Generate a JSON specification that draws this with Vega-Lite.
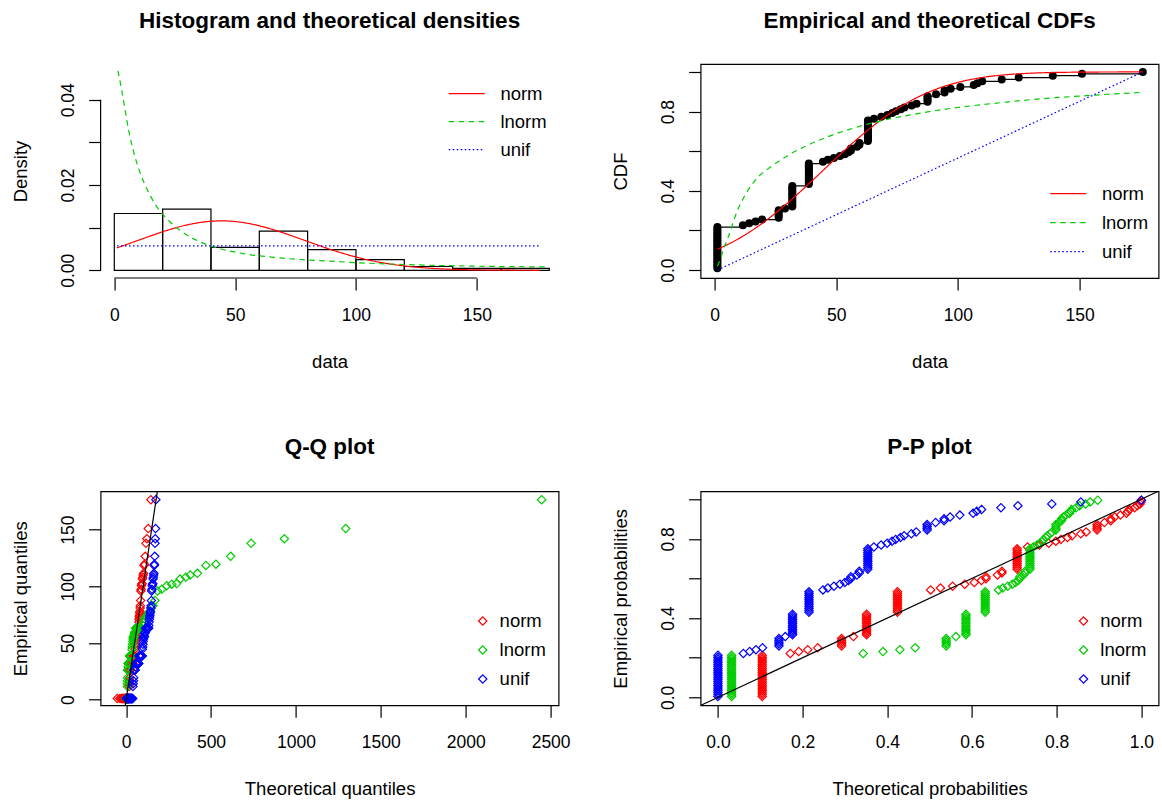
{
"$schema": "https://vega.github.io/schema/vega-lite/v6.json",
"background": "white",
"padding": {"left": 9.6, "top": 8, "right": 5, "bottom": 5},
"config": {
  "font": "Liberation Sans",
  "view": {"stroke": null},
  "axis": {"domain": false, "grid": false, "ticks": true, "tickSize": 12, "tickColor": "#000", "tickWidth": 1.2, "labelFont": "Liberation Sans", "labelFontSize": 17.5, "labelColor": "#000", "labelFlush": false, "labelOverlap": false, "titleFont": "Liberation Sans", "titleFontSize": 18.5, "titleFontWeight": "normal", "titleColor": "#000"},
  "axisX": {"labelAngle": 0, "labelAlign": "center", "labelBaseline": "alphabetic", "labelPadding": 30.5, "titleBaseline": "alphabetic", "titleAlign": "center", "titleX": 229, "titleY": 89},
  "axisY": {"labelAngle": -90, "labelAlign": "center", "labelBaseline": "alphabetic", "labelPadding": 15.2, "titleAngle": -90, "titleBaseline": "alphabetic", "titleAlign": "center", "titleX": -74.5, "titleY": 107},
  "title": {"font": "Liberation Sans", "fontSize": 22.5, "fontWeight": "bold", "color": "#000", "anchor": "middle", "baseline": "alphabetic", "offset": 32, "frame": "group"},
  "legend": {"labelFont": "Liberation Sans", "labelFontSize": 18.5, "labelColor": "#000", "symbolOpacity": 1}
},
"datasets": {
 "hist": [
  {"a":0,"b":20,"d":0.01333},{"a":20,"b":40,"d":0.01434},{"a":40,"b":60,"d":0.00538},{"a":60,"b":80,"d":0.0092},{"a":80,"b":100,"d":0.00484},{"a":100,"b":120,"d":0.0025},{"a":120,"b":140,"d":0.0009},{"a":140,"b":160,"d":0.00047},{"a":160,"b":180,"d":0.00047}
 ],
 "dens": [
  {"d":"norm","x":1.1,"y":0.00527},{"d":"norm","x":5,"y":0.00604},{"d":"norm","x":10,"y":0.00706},{"d":"norm","x":15,"y":0.00807},{"d":"norm","x":20,"y":0.00904},{"d":"norm","x":25,"y":0.00991},{"d":"norm","x":30,"y":0.01064},{"d":"norm","x":35,"y":0.01118},{"d":"norm","x":40,"y":0.01151},{"d":"norm","x":45,"y":0.0116},{"d":"norm","x":50,"y":0.01144},{"d":"norm","x":55,"y":0.01105},{"d":"norm","x":60,"y":0.01045},{"d":"norm","x":65,"y":0.00968},{"d":"norm","x":70,"y":0.00877},{"d":"norm","x":75,"y":0.00779},{"d":"norm","x":80,"y":0.00677},{"d":"norm","x":90,"y":0.0048},{"d":"norm","x":100,"y":0.00313},{"d":"norm","x":110,"y":0.00187},{"d":"norm","x":120,"y":0.00103},{"d":"norm","x":130,"y":0.00052},{"d":"norm","x":140,"y":0.00024},{"d":"norm","x":150,"y":0.0001},{"d":"norm","x":160,"y":0.00004},{"d":"norm","x":176,"y":0.00001},
  {"d":"lnorm","x":1.5,"y":0.0468},{"d":"lnorm","x":3,"y":0.0425},{"d":"lnorm","x":4.5,"y":0.0375},{"d":"lnorm","x":6,"y":0.0327},{"d":"lnorm","x":8,"y":0.0278},{"d":"lnorm","x":10,"y":0.024},{"d":"lnorm","x":12.5,"y":0.0203},{"d":"lnorm","x":15,"y":0.0174},{"d":"lnorm","x":17.5,"y":0.015},{"d":"lnorm","x":20,"y":0.0132},{"d":"lnorm","x":23,"y":0.0114},{"d":"lnorm","x":26.5,"y":0.0097},{"d":"lnorm","x":30,"y":0.0083},{"d":"lnorm","x":35,"y":0.0068},{"d":"lnorm","x":40,"y":0.0057},{"d":"lnorm","x":48,"y":0.0045},{"d":"lnorm","x":56,"y":0.0037},{"d":"lnorm","x":65,"y":0.0031},{"d":"lnorm","x":75,"y":0.0026},{"d":"lnorm","x":88,"y":0.0022},{"d":"lnorm","x":100,"y":0.0018},{"d":"lnorm","x":118,"y":0.0014},{"d":"lnorm","x":137,"y":0.0011},{"d":"lnorm","x":158,"y":0.0009},{"d":"lnorm","x":180,"y":0.0008},
  {"d":"unif","x":1.1,"y":0.005718},{"d":"unif","x":176,"y":0.005718}
 ],
 "cdf": [
  {"d":"norm","x":1.1,"y":0.1046},{"d":"norm","x":10,"y":0.1594},{"d":"norm","x":20,"y":0.24},{"d":"norm","x":30,"y":0.3388},{"d":"norm","x":40,"y":0.4503},{"d":"norm","x":50,"y":0.5658},{"d":"norm","x":60,"y":0.676},{"d":"norm","x":70,"y":0.7725},{"d":"norm","x":80,"y":0.8503},{"d":"norm","x":90,"y":0.908},{"d":"norm","x":100,"y":0.9473},{"d":"norm","x":110,"y":0.9719},{"d":"norm","x":120,"y":0.9861},{"d":"norm","x":130,"y":0.9936},{"d":"norm","x":140,"y":0.9973},{"d":"norm","x":150,"y":0.9989},{"d":"norm","x":160,"y":0.9996},{"d":"norm","x":176,"y":0.9999},
  {"d":"lnorm","x":1.1,"y":0.02},{"d":"lnorm","x":2.2,"y":0.05},{"d":"lnorm","x":3.5,"y":0.1},{"d":"lnorm","x":5.6,"y":0.168},{"d":"lnorm","x":9.1,"y":0.293},{"d":"lnorm","x":13.2,"y":0.393},{"d":"lnorm","x":17.3,"y":0.462},{"d":"lnorm","x":24.1,"y":0.53},{"d":"lnorm","x":31,"y":0.585},{"d":"lnorm","x":37.9,"y":0.628},{"d":"lnorm","x":46.1,"y":0.671},{"d":"lnorm","x":57,"y":0.716},{"d":"lnorm","x":68,"y":0.752},{"d":"lnorm","x":80,"y":0.782},{"d":"lnorm","x":90,"y":0.803},{"d":"lnorm","x":100,"y":0.8205},{"d":"lnorm","x":110,"y":0.835},{"d":"lnorm","x":120,"y":0.848},{"d":"lnorm","x":130,"y":0.86},{"d":"lnorm","x":140,"y":0.87},{"d":"lnorm","x":150,"y":0.878},{"d":"lnorm","x":160,"y":0.886},{"d":"lnorm","x":176,"y":0.897},
  {"d":"unif","x":1.1,"y":0},{"d":"unif","x":176,"y":1}
 ],
 "obs": [
  {"v":1.1,"F":0.0094,"p":0.0047,"n":0.1046,"l":0.0322,"u":0},
  {"v":1.1,"F":0.0189,"p":0.0142,"n":0.1046,"l":0.0322,"u":0},
  {"v":1.1,"F":0.0283,"p":0.0236,"n":0.1046,"l":0.0322,"u":0},
  {"v":1.1,"F":0.0377,"p":0.033,"n":0.1046,"l":0.0322,"u":0},
  {"v":1.1,"F":0.0472,"p":0.0425,"n":0.1046,"l":0.0322,"u":0},
  {"v":1.1,"F":0.0566,"p":0.0519,"n":0.1046,"l":0.0322,"u":0},
  {"v":1.1,"F":0.066,"p":0.0613,"n":0.1046,"l":0.0322,"u":0},
  {"v":1.1,"F":0.0755,"p":0.0708,"n":0.1046,"l":0.0322,"u":0},
  {"v":1.1,"F":0.0849,"p":0.0802,"n":0.1046,"l":0.0322,"u":0},
  {"v":1.1,"F":0.0943,"p":0.0896,"n":0.1046,"l":0.0322,"u":0},
  {"v":1.1,"F":0.1038,"p":0.0991,"n":0.1046,"l":0.0322,"u":0},
  {"v":1.1,"F":0.1132,"p":0.1085,"n":0.1046,"l":0.0322,"u":0},
  {"v":1.1,"F":0.1226,"p":0.1179,"n":0.1046,"l":0.0322,"u":0},
  {"v":1.1,"F":0.1321,"p":0.1274,"n":0.1046,"l":0.0322,"u":0},
  {"v":1.1,"F":0.1415,"p":0.1368,"n":0.1046,"l":0.0322,"u":0},
  {"v":1.1,"F":0.1509,"p":0.1462,"n":0.1046,"l":0.0322,"u":0},
  {"v":1.1,"F":0.1604,"p":0.1557,"n":0.1046,"l":0.0322,"u":0},
  {"v":1.1,"F":0.1698,"p":0.1651,"n":0.1046,"l":0.0322,"u":0},
  {"v":1.1,"F":0.1792,"p":0.1745,"n":0.1046,"l":0.0322,"u":0},
  {"v":1.1,"F":0.1887,"p":0.184,"n":0.1046,"l":0.0322,"u":0},
  {"v":1.1,"F":0.1981,"p":0.1934,"n":0.1046,"l":0.0322,"u":0},
  {"v":1.1,"F":0.2075,"p":0.2028,"n":0.1046,"l":0.0322,"u":0},
  {"v":1.1,"F":0.217,"p":0.2123,"n":0.1046,"l":0.0322,"u":0},
  {"v":11.6,"F":0.2264,"p":0.2217,"n":0.1709,"l":0.343,"u":0.06},
  {"v":14.2,"F":0.2358,"p":0.2311,"n":0.1908,"l":0.3896,"u":0.0749},
  {"v":16.8,"F":0.2453,"p":0.2406,"n":0.212,"l":0.4296,"u":0.0898},
  {"v":19.5,"F":0.2547,"p":0.25,"n":0.2355,"l":0.4658,"u":0.1052},
  {"v":26.3,"F":0.2642,"p":0.2594,"n":0.292,"l":0.5391,"u":0.1441},
  {"v":26.3,"F":0.2736,"p":0.2689,"n":0.292,"l":0.5391,"u":0.1441},
  {"v":26.3,"F":0.283,"p":0.2783,"n":0.292,"l":0.5391,"u":0.1441},
  {"v":26.3,"F":0.2925,"p":0.2877,"n":0.292,"l":0.5391,"u":0.1441},
  {"v":26.3,"F":0.3019,"p":0.2972,"n":0.292,"l":0.5391,"u":0.1441},
  {"v":28.9,"F":0.3113,"p":0.3066,"n":0.32,"l":0.5619,"u":0.1589},
  {"v":31.9,"F":0.3208,"p":0.316,"n":0.351,"l":0.5857,"u":0.1761},
  {"v":31.9,"F":0.3302,"p":0.3255,"n":0.351,"l":0.5857,"u":0.1761},
  {"v":31.9,"F":0.3396,"p":0.3349,"n":0.351,"l":0.5857,"u":0.1761},
  {"v":31.9,"F":0.3491,"p":0.3443,"n":0.351,"l":0.5857,"u":0.1761},
  {"v":31.9,"F":0.3585,"p":0.3538,"n":0.351,"l":0.5857,"u":0.1761},
  {"v":31.9,"F":0.3679,"p":0.3632,"n":0.351,"l":0.5857,"u":0.1761},
  {"v":31.9,"F":0.3774,"p":0.3726,"n":0.351,"l":0.5857,"u":0.1761},
  {"v":31.9,"F":0.3868,"p":0.3821,"n":0.351,"l":0.5857,"u":0.1761},
  {"v":31.9,"F":0.3962,"p":0.3915,"n":0.351,"l":0.5857,"u":0.1761},
  {"v":31.9,"F":0.4057,"p":0.4009,"n":0.351,"l":0.5857,"u":0.1761},
  {"v":31.9,"F":0.4151,"p":0.4104,"n":0.351,"l":0.5857,"u":0.1761},
  {"v":31.9,"F":0.4245,"p":0.4198,"n":0.351,"l":0.5857,"u":0.1761},
  {"v":38.7,"F":0.434,"p":0.4292,"n":0.424,"l":0.6312,"u":0.215},
  {"v":38.7,"F":0.4434,"p":0.4387,"n":0.424,"l":0.6312,"u":0.215},
  {"v":38.7,"F":0.4528,"p":0.4481,"n":0.424,"l":0.6312,"u":0.215},
  {"v":38.7,"F":0.4623,"p":0.4575,"n":0.424,"l":0.6312,"u":0.215},
  {"v":38.7,"F":0.4717,"p":0.467,"n":0.424,"l":0.6312,"u":0.215},
  {"v":38.7,"F":0.4811,"p":0.4764,"n":0.424,"l":0.6312,"u":0.215},
  {"v":38.7,"F":0.4906,"p":0.4858,"n":0.424,"l":0.6312,"u":0.215},
  {"v":38.7,"F":0.5,"p":0.4953,"n":0.424,"l":0.6312,"u":0.215},
  {"v":38.7,"F":0.5094,"p":0.5047,"n":0.424,"l":0.6312,"u":0.215},
  {"v":38.7,"F":0.5189,"p":0.5142,"n":0.424,"l":0.6312,"u":0.215},
  {"v":38.7,"F":0.5283,"p":0.5236,"n":0.424,"l":0.6312,"u":0.215},
  {"v":38.7,"F":0.5377,"p":0.533,"n":0.424,"l":0.6312,"u":0.215},
  {"v":44.5,"F":0.5472,"p":0.5425,"n":0.5023,"l":0.6628,"u":0.2481},
  {"v":46.5,"F":0.5566,"p":0.5519,"n":0.5255,"l":0.6726,"u":0.2596},
  {"v":49,"F":0.566,"p":0.5613,"n":0.5543,"l":0.6843,"u":0.2739},
  {"v":51.5,"F":0.5755,"p":0.5708,"n":0.5829,"l":0.6951,"u":0.2882},
  {"v":53.5,"F":0.5849,"p":0.5802,"n":0.6054,"l":0.7032,"u":0.2996},
  {"v":55,"F":0.5943,"p":0.5896,"n":0.6221,"l":0.7089,"u":0.3082},
  {"v":56,"F":0.6038,"p":0.5991,"n":0.6331,"l":0.7127,"u":0.3139},
  {"v":56,"F":0.6132,"p":0.6085,"n":0.6331,"l":0.7127,"u":0.3139},
  {"v":58.5,"F":0.6226,"p":0.6179,"n":0.6601,"l":0.7218,"u":0.3282},
  {"v":59.5,"F":0.6321,"p":0.6274,"n":0.6707,"l":0.7253,"u":0.3339},
  {"v":59.5,"F":0.6415,"p":0.6368,"n":0.6707,"l":0.7253,"u":0.3339},
  {"v":63,"F":0.6509,"p":0.6462,"n":0.7066,"l":0.7369,"u":0.3539},
  {"v":63,"F":0.6604,"p":0.6557,"n":0.7066,"l":0.7369,"u":0.3539},
  {"v":63,"F":0.6698,"p":0.6651,"n":0.7066,"l":0.7369,"u":0.3539},
  {"v":63,"F":0.6792,"p":0.6745,"n":0.7066,"l":0.7369,"u":0.3539},
  {"v":63,"F":0.6887,"p":0.684,"n":0.7066,"l":0.7369,"u":0.3539},
  {"v":63,"F":0.6981,"p":0.6934,"n":0.7066,"l":0.7369,"u":0.3539},
  {"v":63,"F":0.7075,"p":0.7028,"n":0.7066,"l":0.7369,"u":0.3539},
  {"v":63,"F":0.717,"p":0.7123,"n":0.7066,"l":0.7369,"u":0.3539},
  {"v":63,"F":0.7264,"p":0.7217,"n":0.7066,"l":0.7369,"u":0.3539},
  {"v":63,"F":0.7358,"p":0.7311,"n":0.7066,"l":0.7369,"u":0.3539},
  {"v":63,"F":0.7453,"p":0.7406,"n":0.7066,"l":0.7369,"u":0.3539},
  {"v":63,"F":0.7547,"p":0.75,"n":0.7066,"l":0.7369,"u":0.3539},
  {"v":65.5,"F":0.7642,"p":0.7594,"n":0.7312,"l":0.7446,"u":0.3682},
  {"v":68.5,"F":0.7736,"p":0.7689,"n":0.7591,"l":0.7534,"u":0.3854},
  {"v":71,"F":0.783,"p":0.7783,"n":0.7812,"l":0.7603,"u":0.3997},
  {"v":73,"F":0.7925,"p":0.7877,"n":0.798,"l":0.7654,"u":0.4111},
  {"v":74.5,"F":0.8019,"p":0.7972,"n":0.81,"l":0.7694,"u":0.4197},
  {"v":76.5,"F":0.8113,"p":0.8066,"n":0.8254,"l":0.7742,"u":0.4311},
  {"v":78,"F":0.8208,"p":0.816,"n":0.8364,"l":0.7779,"u":0.4397},
  {"v":81,"F":0.8302,"p":0.8255,"n":0.857,"l":0.7846,"u":0.4568},
  {"v":83,"F":0.8396,"p":0.8349,"n":0.8697,"l":0.789,"u":0.4683},
  {"v":87.5,"F":0.8491,"p":0.8443,"n":0.8954,"l":0.7983,"u":0.494},
  {"v":87.5,"F":0.8585,"p":0.8538,"n":0.8954,"l":0.7983,"u":0.494},
  {"v":87.5,"F":0.8679,"p":0.8632,"n":0.8954,"l":0.7983,"u":0.494},
  {"v":87.5,"F":0.8774,"p":0.8726,"n":0.8954,"l":0.7983,"u":0.494},
  {"v":91,"F":0.8868,"p":0.8821,"n":0.9127,"l":0.805,"u":0.514},
  {"v":94.5,"F":0.8962,"p":0.8915,"n":0.9278,"l":0.8113,"u":0.534},
  {"v":94.5,"F":0.9057,"p":0.9009,"n":0.9278,"l":0.8113,"u":0.534},
  {"v":97,"F":0.9151,"p":0.9104,"n":0.9372,"l":0.8156,"u":0.5483},
  {"v":101,"F":0.9245,"p":0.9198,"n":0.9504,"l":0.8221,"u":0.5712},
  {"v":106.5,"F":0.934,"p":0.9292,"n":0.9647,"l":0.8304,"u":0.6026},
  {"v":108,"F":0.9434,"p":0.9387,"n":0.968,"l":0.8326,"u":0.6112},
  {"v":110,"F":0.9528,"p":0.9481,"n":0.9719,"l":0.8353,"u":0.6226},
  {"v":118,"F":0.9623,"p":0.9575,"n":0.9839,"l":0.8459,"u":0.6684},
  {"v":125,"F":0.9717,"p":0.967,"n":0.9905,"l":0.8541,"u":0.7084},
  {"v":139,"F":0.9811,"p":0.9764,"n":0.997,"l":0.8684,"u":0.7885},
  {"v":151,"F":0.9906,"p":0.9858,"n":0.999,"l":0.879,"u":0.8571},
  {"v":176,"F":1,"p":0.9953,"n":0.9999,"l":0.8969,"u":1}
 ],
 "qq": [
  {"e":1.1,"n":-51.7,"l":0.3,"u":1.9},{"e":1.1,"n":-36.3,"l":0.6,"u":3.6},{"e":1.1,"n":-28.4,"l":0.87,"u":5.2},{"e":1.1,"n":-22.8,"l":1.12,"u":6.9},{"e":1.1,"n":-18.4,"l":1.38,"u":8.5},{"e":1.1,"n":-14.8,"l":1.63,"u":10.2},{"e":1.1,"n":-11.7,"l":1.88,"u":11.8},{"e":1.1,"n":-8.9,"l":2.14,"u":13.5},{"e":1.1,"n":-6.4,"l":2.41,"u":15.1},{"e":1.1,"n":-4,"l":2.68,"u":16.8},{"e":1.1,"n":-1.9,"l":2.96,"u":18.4},{"e":1.1,"n":0.1,"l":3.24,"u":20.1},{"e":1.1,"n":1.9,"l":3.54,"u":21.7},{"e":1.1,"n":3.7,"l":3.83,"u":23.4},{"e":1.1,"n":5.4,"l":4.15,"u":25},{"e":1.1,"n":7,"l":4.47,"u":26.7},{"e":1.1,"n":8.5,"l":4.79,"u":28.3},{"e":1.1,"n":10,"l":5.13,"u":30},{"e":1.1,"n":11.4,"l":5.49,"u":31.6},{"e":1.1,"n":12.8,"l":5.85,"u":33.3},{"e":1.1,"n":14.1,"l":6.22,"u":34.9},{"e":1.1,"n":15.4,"l":6.6,"u":36.6},{"e":1.1,"n":16.7,"l":7,"u":38.2},
  {"e":11.6,"n":17.9,"l":7.4,"u":39.9},{"e":14.2,"n":19.1,"l":7.81,"u":41.5},{"e":16.8,"n":20.2,"l":8.26,"u":43.2},{"e":19.5,"n":21.4,"l":8.71,"u":44.8},
  {"e":26.3,"n":22.5,"l":9.16,"u":46.5},{"e":26.3,"n":23.6,"l":9.64,"u":48.1},{"e":26.3,"n":24.7,"l":10.1,"u":49.8},{"e":26.3,"n":25.7,"l":10.6,"u":51.4},{"e":26.3,"n":26.7,"l":11.2,"u":53.1},
  {"e":28.9,"n":27.8,"l":11.7,"u":54.7},
  {"e":31.9,"n":28.8,"l":12.3,"u":56.4},{"e":31.9,"n":29.8,"l":12.9,"u":58},{"e":31.9,"n":30.8,"l":13.5,"u":59.7},{"e":31.9,"n":31.8,"l":14.1,"u":61.3},{"e":31.9,"n":32.8,"l":14.7,"u":63},{"e":31.9,"n":33.7,"l":15.4,"u":64.6},{"e":31.9,"n":34.7,"l":16.1,"u":66.3},{"e":31.9,"n":35.6,"l":16.8,"u":67.9},{"e":31.9,"n":36.6,"l":17.6,"u":69.6},{"e":31.9,"n":37.5,"l":18.3,"u":71.2},{"e":31.9,"n":38.4,"l":19.1,"u":72.9},{"e":31.9,"n":39.3,"l":20,"u":74.5},
  {"e":38.7,"n":40.2,"l":20.8,"u":76.2},{"e":38.7,"n":41.1,"l":21.7,"u":77.8},{"e":38.7,"n":42.1,"l":22.7,"u":79.5},{"e":38.7,"n":43,"l":23.6,"u":81.1},{"e":38.7,"n":43.8,"l":24.6,"u":82.8},{"e":38.7,"n":44.8,"l":25.7,"u":84.4},{"e":38.7,"n":45.7,"l":26.8,"u":86.1},{"e":38.7,"n":46.5,"l":27.9,"u":87.7},{"e":38.7,"n":47.5,"l":29.1,"u":89.4},{"e":38.7,"n":48.3,"l":30.3,"u":91},{"e":38.7,"n":49.2,"l":31.6,"u":92.7},{"e":38.7,"n":50.2,"l":33,"u":94.3},
  {"e":44.5,"n":51,"l":34.4,"u":96},{"e":46.5,"n":51.9,"l":35.8,"u":97.6},{"e":49,"n":52.9,"l":37.4,"u":99.3},{"e":51.5,"n":53.8,"l":39,"u":100.9},{"e":53.5,"n":54.7,"l":40.7,"u":102.6},{"e":55,"n":55.6,"l":42.5,"u":104.2},{"e":56,"n":56.5,"l":44.3,"u":105.9},{"e":56,"n":57.5,"l":46.2,"u":107.5},{"e":58.5,"n":58.4,"l":48.3,"u":109.2},{"e":59.5,"n":59.4,"l":50.5,"u":110.8},{"e":59.5,"n":60.3,"l":52.8,"u":112.5},
  {"e":63,"n":61.3,"l":55.1,"u":114.1},{"e":63,"n":62.2,"l":57.7,"u":115.8},{"e":63,"n":63.2,"l":60.3,"u":117.4},{"e":63,"n":64.2,"l":63.2,"u":119.1},{"e":63,"n":65.2,"l":66.2,"u":120.7},{"e":63,"n":66.2,"l":69.4,"u":122.4},{"e":63,"n":67.3,"l":72.8,"u":124},{"e":63,"n":68.3,"l":76.4,"u":125.7},{"e":63,"n":69.3,"l":80.2,"u":127.3},{"e":63,"n":70.4,"l":84.3,"u":129},{"e":63,"n":71.5,"l":88.7,"u":130.6},{"e":63,"n":72.6,"l":93.3,"u":132.3},
  {"e":65.5,"n":73.8,"l":98.4,"u":133.9},{"e":68.5,"n":74.9,"l":104,"u":135.6},{"e":71,"n":76.1,"l":110,"u":137.2},{"e":73,"n":77.3,"l":116,"u":138.9},{"e":74.5,"n":78.6,"l":123,"u":140.5},{"e":76.5,"n":79.9,"l":131,"u":142.2},{"e":78,"n":81.2,"l":139,"u":143.8},
  {"e":81,"n":82.6,"l":148,"u":145.5},{"e":83,"n":84,"l":158,"u":147.1},{"e":87.5,"n":85.5,"l":170,"u":148.8},
  {"e":96,"n":87,"l":185,"u":150.4},{"e":97.5,"n":88.6,"l":210,"u":152.1},{"e":100.5,"n":90.3,"l":239,"u":153.7},{"e":102,"n":92.1,"l":269,"u":155.4},{"e":102.5,"n":93.9,"l":298,"u":157},{"e":106.5,"n":95.9,"l":318,"u":158.7},{"e":108,"n":98,"l":351,"u":160.3},{"e":110,"n":100.4,"l":377,"u":162},{"e":111.5,"n":102.9,"l":420,"u":163.6},{"e":118.5,"n":105.7,"l":470,"u":165.3},{"e":119.5,"n":108.8,"l":529,"u":166.9},{"e":126.5,"n":112.4,"l":616,"u":168.6},{"e":138,"n":116.8,"l":736,"u":170.2},{"e":142,"n":122.4,"l":932,"u":171.9},{"e":151,"n":130.3,"l":1293,"u":173.5},{"e":176.5,"n":145.7,"l":2447,"u":175.2}
 ]
},
"columns": 2,
"spacing": {"row": 213.3, "column": 142},
"bounds": "flush",
"resolve": {"scale": {"color": "independent", "strokeDash": "independent"}, "legend": {"color": "independent", "strokeDash": "independent"}},
"concat": [
 {
  "width": 458, "height": 214,
  "view": {"stroke": null},
  "title": "Histogram and theoretical densities",
  "layer": [
   {"data": {"name": "hist"},
    "mark": {"type": "rect", "fill": "transparent", "stroke": "#000", "strokeWidth": 1.2},
    "encoding": {
     "x": {"field": "a", "type": "quantitative", "scale": {"domain": [-5.67, 183.85], "nice": false, "zero": false}, "axis": {"values": [0, 50, 100, 150], "title": "data"}},
     "x2": {"field": "b"},
     "y": {"field": "d", "type": "quantitative", "scale": {"domain": [-0.0018, 0.0484], "nice": false, "zero": false}, "axis": {"values": [0, 0.01, 0.02, 0.03, 0.04], "title": "Density", "labelExpr": "datum.value == 0.01 || datum.value == 0.03 ? '' : format(datum.value, '.2f')"}},
     "y2": {"datum": 0}
    }},
   {"data": {"name": "dens"},
    "mark": {"type": "line", "strokeWidth": 1.2, "interpolate": "monotone"},
    "encoding": {
     "x": {"field": "x", "type": "quantitative", "title": "data"},
     "y": {"field": "y", "type": "quantitative", "title": "Density"},
     "color": {"field": "d", "type": "nominal", "scale": {"domain": ["norm", "lnorm", "unif"], "range": ["#FF0000", "#00CD00", "#0000FF"]},
       "legend": {"title": null, "orient": "none", "legendX": 347.1, "legendY": 15.6, "symbolType": "stroke", "symbolSize": 1296, "symbolStrokeWidth": 1.2, "labelOffset": 14.7, "padding": 0, "rowPadding": 0, "clipHeight": 28}},
     "strokeDash": {"field": "d", "type": "nominal", "scale": {"domain": ["norm", "lnorm", "unif"], "range": [[1, 0], [5.5, 4.5], [1.6, 2.4]]},
       "legend": {"title": null, "orient": "none", "legendX": 347.1, "legendY": 15.6, "symbolType": "stroke", "symbolSize": 1296, "symbolStrokeWidth": 1.2, "labelOffset": 14.7, "padding": 0, "rowPadding": 0, "clipHeight": 28}}
    }},
   {"data": {"values": [{}]}, "mark": {"type": "rule", "color": "#000", "strokeWidth": 1.2},
    "encoding": {"x": {"datum": 0}, "x2": {"datum": 150}, "y": {"datum": -0.0018}}},
   {"data": {"values": [{}]}, "mark": {"type": "rule", "color": "#000", "strokeWidth": 1.2},
    "encoding": {"x": {"datum": -5.67}, "y": {"datum": 0}, "y2": {"datum": 0.04}}}
  ]
 },
 {
  "width": 458, "height": 214,
  "view": {"stroke": "#000", "strokeWidth": 1.2},
  "title": "Empirical and theoretical CDFs",
  "layer": [
   {"data": {"name": "obs"},
    "mark": {"type": "line", "color": "#000", "strokeWidth": 1.2, "interpolate": "step-after"},
    "encoding": {
     "x": {"field": "v", "type": "quantitative", "scale": {"domain": [-5.8, 182.5], "nice": false, "zero": false}, "axis": {"values": [0, 50, 100, 150], "title": "data"}},
     "y": {"field": "F", "type": "quantitative", "scale": {"domain": [-0.04, 1.04], "nice": false, "zero": false}, "axis": {"values": [0, 0.2, 0.4, 0.6, 0.8, 1], "title": "CDF", "labelExpr": "datum.value == 0.2 || datum.value == 0.6 || datum.value == 1 ? '' : format(datum.value, '.1f')"}},
     "order": {"field": "F", "type": "quantitative"}
    }},
   {"data": {"name": "obs"},
    "mark": {"type": "circle", "color": "#000", "size": 64, "opacity": 1},
    "encoding": {"x": {"field": "v", "type": "quantitative", "title": "data"}, "y": {"field": "F", "type": "quantitative", "title": "CDF"}}},
   {"data": {"name": "cdf"},
    "mark": {"type": "line", "strokeWidth": 1.2, "interpolate": "monotone"},
    "encoding": {
     "x": {"field": "x", "type": "quantitative", "title": "data"},
     "y": {"field": "y", "type": "quantitative", "title": "CDF"},
     "color": {"field": "d", "type": "nominal", "scale": {"domain": ["norm", "lnorm", "unif"], "range": ["#FF0000", "#00CD00", "#0000FF"]},
       "legend": {"title": null, "orient": "none", "legendX": 348.6, "legendY": 115.35, "symbolType": "stroke", "symbolSize": 1296, "symbolStrokeWidth": 1.2, "labelOffset": 14.7, "padding": 0, "rowPadding": 0, "clipHeight": 28.5}},
     "strokeDash": {"field": "d", "type": "nominal", "scale": {"domain": ["norm", "lnorm", "unif"], "range": [[1, 0], [5.5, 4.5], [1.6, 2.4]]},
       "legend": {"title": null, "orient": "none", "legendX": 348.6, "legendY": 115.35, "symbolType": "stroke", "symbolSize": 1296, "symbolStrokeWidth": 1.2, "labelOffset": 14.7, "padding": 0, "rowPadding": 0, "clipHeight": 28.5}}
    }}
  ]
 },
 {
  "width": 458, "height": 214,
  "view": {"stroke": "#000", "strokeWidth": 1.2},
  "title": "Q-Q plot",
  "layer": [
   {"data": {"name": "qq"},
    "mark": {"type": "point", "shape": "diamond", "filled": false, "size": 69, "strokeWidth": 1.2, "opacity": 1},
    "encoding": {
     "x": {"field": "n", "type": "quantitative", "scale": {"domain": [-150.2, 2547], "nice": false, "zero": false}, "axis": {"values": [0, 500, 1000, 1500, 2000, 2500], "title": "Theoretical quantiles", "labelExpr": "format(datum.value, 'd')"}},
     "y": {"field": "e", "type": "quantitative", "scale": {"domain": [-4.9, 183.9], "nice": false, "zero": false}, "axis": {"values": [0, 50, 100, 150], "title": "Empirical quantiles"}},
     "color": {"datum": "norm", "type": "nominal", "scale": {"domain": ["norm", "lnorm", "unif"], "range": ["#FF0000", "#00CD00", "#0000FF"]},
       "legend": {"title": null, "orient": "none", "legendX": 372.9, "legendY": 115.55, "symbolType": "diamond", "symbolSize": 69, "symbolStrokeWidth": 1.2, "labelOffset": 7.6, "padding": 0, "rowPadding": 0, "clipHeight": 28.3}}
    }},
   {"data": {"name": "qq"},
    "mark": {"type": "point", "shape": "diamond", "filled": false, "size": 69, "strokeWidth": 1.2, "opacity": 1},
    "encoding": {
     "x": {"field": "l", "type": "quantitative", "title": "Theoretical quantiles"},
     "y": {"field": "e", "type": "quantitative", "title": "Empirical quantiles"},
     "color": {"datum": "lnorm", "type": "nominal"}
    }},
   {"data": {"name": "qq"},
    "mark": {"type": "point", "shape": "diamond", "filled": false, "size": 69, "strokeWidth": 1.2, "opacity": 1},
    "encoding": {
     "x": {"field": "u", "type": "quantitative", "title": "Theoretical quantiles"},
     "y": {"field": "e", "type": "quantitative", "title": "Empirical quantiles"},
     "color": {"datum": "unif", "type": "nominal"}
    }},
   {"data": {"values": [{}]}, "mark": {"type": "rule", "color": "#000", "strokeWidth": 1.2},
    "encoding": {"x": {"datum": -4.9}, "y": {"datum": -4.9}, "x2": {"datum": 183.9}, "y2": {"datum": 183.9}}}
  ]
 },
 {
  "width": 458, "height": 214,
  "view": {"stroke": "#000", "strokeWidth": 1.2},
  "title": "P-P plot",
  "layer": [
   {"data": {"name": "obs"},
    "mark": {"type": "point", "shape": "diamond", "filled": false, "size": 69, "strokeWidth": 1.2, "opacity": 1},
    "encoding": {
     "x": {"field": "n", "type": "quantitative", "scale": {"domain": [-0.041, 1.0407], "nice": false, "zero": false}, "axis": {"values": [0, 0.2, 0.4, 0.6, 0.8, 1], "title": "Theoretical probabilities", "labelExpr": "format(datum.value, '.1f')"}},
     "y": {"field": "p", "type": "quantitative", "scale": {"domain": [-0.04, 1.04], "nice": false, "zero": false}, "axis": {"values": [0, 0.2, 0.4, 0.6, 0.8, 1], "title": "Empirical probabilities", "labelExpr": "datum.value == 0.2 || datum.value == 0.6 || datum.value == 1 ? '' : format(datum.value, '.1f')"}},
     "color": {"datum": "norm", "type": "nominal", "scale": {"domain": ["norm", "lnorm", "unif"], "range": ["#FF0000", "#00CD00", "#0000FF"]},
       "legend": {"title": null, "orient": "none", "legendX": 373.7, "legendY": 115.55, "symbolType": "diamond", "symbolSize": 69, "symbolStrokeWidth": 1.2, "labelOffset": 7.5, "padding": 0, "rowPadding": 0, "clipHeight": 28.3}}
    }},
   {"data": {"name": "obs"},
    "mark": {"type": "point", "shape": "diamond", "filled": false, "size": 69, "strokeWidth": 1.2, "opacity": 1},
    "encoding": {
     "x": {"field": "l", "type": "quantitative", "title": "Theoretical probabilities"},
     "y": {"field": "p", "type": "quantitative", "title": "Empirical probabilities"},
     "color": {"datum": "lnorm", "type": "nominal"}
    }},
   {"data": {"name": "obs"},
    "mark": {"type": "point", "shape": "diamond", "filled": false, "size": 69, "strokeWidth": 1.2, "opacity": 1},
    "encoding": {
     "x": {"field": "u", "type": "quantitative", "title": "Theoretical probabilities"},
     "y": {"field": "p", "type": "quantitative", "title": "Empirical probabilities"},
     "color": {"datum": "unif", "type": "nominal"}
    }},
   {"data": {"values": [{}]}, "mark": {"type": "rule", "color": "#000", "strokeWidth": 1.2},
    "encoding": {"x": {"datum": -0.04}, "y": {"datum": -0.04}, "x2": {"datum": 1.04}, "y2": {"datum": 1.04}}}
  ]
 }
]
}
